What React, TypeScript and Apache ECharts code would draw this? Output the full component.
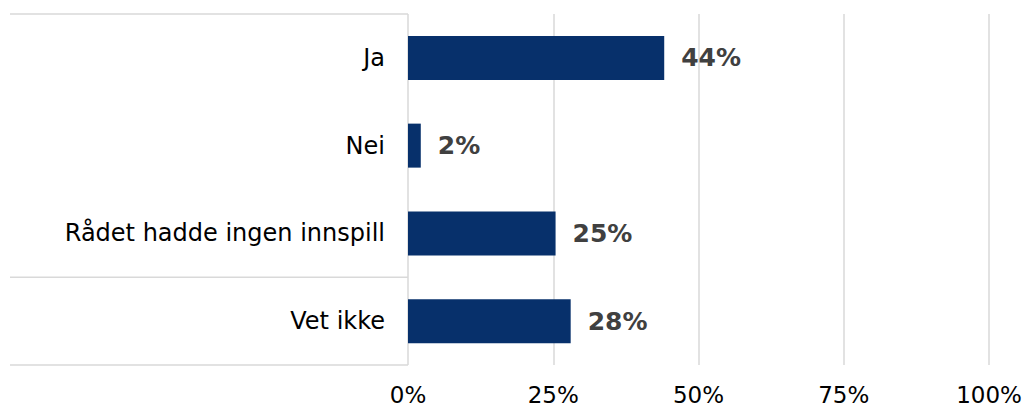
import React, { useEffect, useRef } from "react";
import * as echarts from "echarts";

const categories = ["Ja", "Nei", "Rådet hadde ingen innspill", "Vet ikke"];
const values = [44.1, 2.2, 25.4, 28.0];
const xTicks = [0, 25, 50, 75, 100];

const W = 1031;
const H = 406;
const GRID = { left: 408, right: 42, top: 14, bottom: 41 };

export default function App() {
  const ref = useRef<HTMLDivElement>(null);
  useEffect(() => {
    if (!ref.current) return;
    const chart = echarts.init(ref.current, undefined, { renderer: "svg" });
    const plotH = H - GRID.top - GRID.bottom;
    const band = plotH / categories.length;
    const lineStyle = { stroke: "#d9d9d9", lineWidth: 1.5 };
    const sepYs = [GRID.top, GRID.top + band * 3, H - GRID.bottom];
    chart.setOption({
      animation: false,
      grid: { ...GRID, containLabel: false },
      xAxis: {
        type: "value",
        min: xTicks[0],
        max: xTicks[xTicks.length - 1],
        interval: 25,
        axisLine: { show: false },
        axisTick: { show: false },
        splitLine: { show: true, lineStyle: { color: "#d9d9d9", width: 1.5 } },
        axisLabel: {
          formatter: (v: number) => `${v}%`,
          fontFamily: "DejaVu Sans",
          fontSize: 23,
          lineHeight: 21,
          color: "#000",
          margin: 19,
        },
      },
      yAxis: {
        type: "category",
        data: categories,
        inverse: true,
        axisLine: { show: false },
        axisTick: { show: false },
        splitLine: { show: false },
        axisLabel: {
          fontFamily: "DejaVu Sans",
          fontSize: 24,
          color: "#000",
          margin: 23,
        },
      },
      graphic: sepYs.map((y) => ({
        type: "line",
        shape: { x1: 10, y1: y, x2: GRID.left, y2: y },
        style: lineStyle,
        silent: true,
      })),
      series: [
        {
          type: "bar",
          data: values,
          barWidth: 44,
          itemStyle: { color: "#07306b" },
          label: {
            show: true,
            position: "right",
            distance: 17,
            formatter: (p: any) => `${Math.round(p.value)}%`,
            fontFamily: "DejaVu Sans",
            fontWeight: "bold",
            fontSize: 25,
            color: "#404040",
          },
        },
      ],
    });
    return () => chart.dispose();
  }, []);
  return <div ref={ref} style={{ width: W, height: H, position: "absolute", left: 0, top: 0 }} />;
}
